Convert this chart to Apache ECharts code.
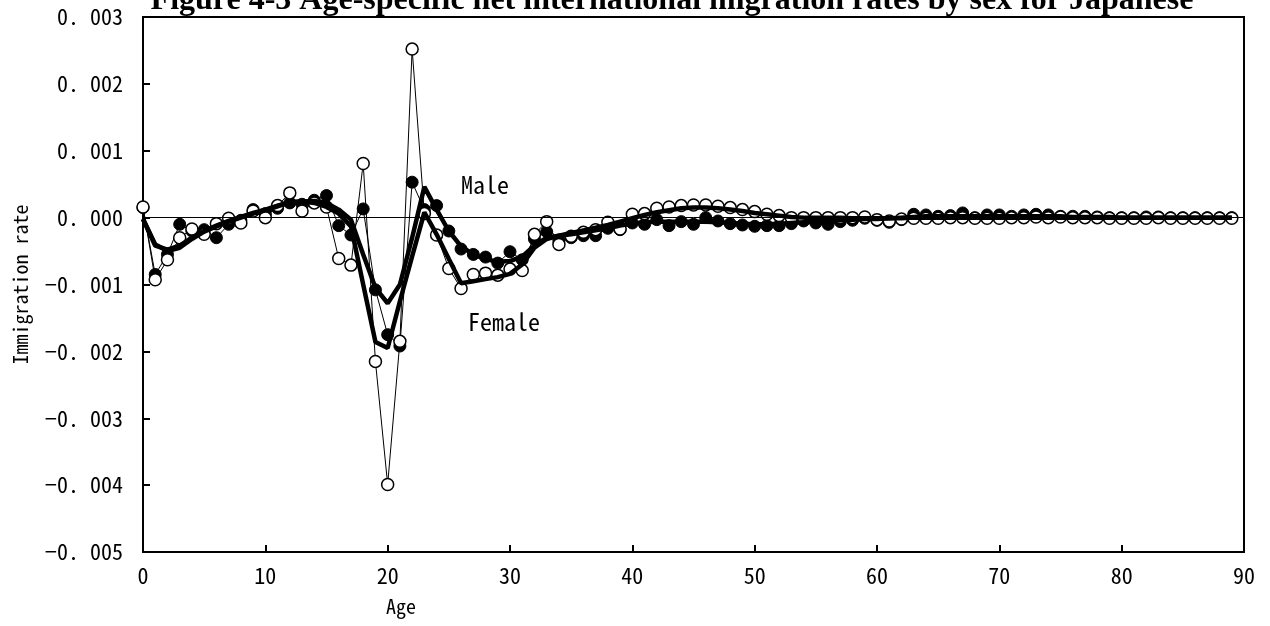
<!DOCTYPE html>
<html>
<head>
<meta charset="utf-8">
<script src="https://cdn.jsdelivr.net/npm/echarts@6/dist/echarts.min.js"></script>
<style>html,body{margin:0;padding:0;background:#fff}#c{width:1270px;height:626px}</style>
</head>
<body>
<div id="c"></div>
<script>
const ages = [0,1,2,3,4,5,6,7,8,9,10,11,12,13,14,15,16,17,18,19,20,21,22,23,24,25,26,27,28,29,30,31,32,33,34,35,36,37,38,39,40,41,42,43,44,45,46,47,48,49,50,51,52,53,54,55,56,57,58,59,60,61,62,63,64,65,66,67,68,69,70,71,72,73,74,75,76,77,78,79,80,81,82,83,84,85,86,87,88,89];

const maleObserved = [0.00015,-0.00085,-0.00055,-0.00010,-0.00020,-0.00018,-0.00030,-0.00010,-0.00004,0.00012,
  0.00006,0.00014,0.00022,0.00020,0.00026,0.00033,-0.00012,-0.00026,0.00013,-0.00108,
  -0.00175,-0.00192,0.00053,0.00012,0.00018,-0.00020,-0.00047,-0.00055,-0.00059,-0.00068,
  -0.00051,-0.00063,-0.00032,-0.00021,-0.00034,-0.00030,-0.00027,-0.00027,-0.00016,-0.00018,
  -0.00008,-0.00010,-0.00003,-0.00012,-0.00006,-0.00010,0.00000,-0.00005,-0.00009,-0.00011,
  -0.00013,-0.00012,-0.00012,-0.00009,-0.00005,-0.00008,-0.00010,-0.00006,-0.00004,-0.00001,
  -0.00004,-0.00007,-0.00003,0.00005,0.00004,0.00002,0.00003,0.00007,0.00000,0.00004,
  0.00004,0.00002,0.00004,0.00005,0.00004,0.00002,0.00002,0.00002,0.00001,0.00000,
  0.00000,0.00000,0.00001,0.00001,0.00000,0.00000,0.00000,0.00000,0.00000,0.00000];

const femaleObserved = [0.00016,-0.00093,-0.00063,-0.00030,-0.00017,-0.00025,-0.00009,-0.00001,-0.00008,0.00010,
  0.00000,0.00018,0.00037,0.00010,0.00022,0.00016,-0.00061,-0.00071,0.00081,-0.00215,
  -0.00399,-0.00185,0.00252,0.00006,-0.00026,-0.00076,-0.00106,-0.00085,-0.00083,-0.00086,
  -0.00077,-0.00079,-0.00025,-0.00006,-0.00040,-0.00028,-0.00022,-0.00018,-0.00007,-0.00017,
  0.00005,0.00006,0.00014,0.00016,0.00018,0.00019,0.00019,0.00017,0.00015,0.00012,
  0.00009,0.00005,0.00003,0.00000,0.00000,0.00000,0.00000,0.00000,0.00000,0.00001,
  -0.00003,-0.00005,-0.00002,-0.00001,-0.00001,-0.00001,0.00000,0.00000,-0.00001,-0.00001,
  -0.00001,0.00000,0.00000,0.00001,0.00000,0.00001,0.00000,0.00000,0.00000,-0.00001,
  -0.00001,-0.00001,-0.00001,0.00000,-0.00001,-0.00001,-0.00001,-0.00001,-0.00001,-0.00001];

const maleSmoothed = [-0.00002,-0.00040,-0.00050,-0.00045,-0.00032,-0.00021,-0.00013,-0.00006,0.00000,0.00006,
  0.00011,0.00017,0.00023,0.00024,0.00025,0.00022,0.00012,-0.00003,-0.00055,-0.00105,
  -0.00128,-0.00100,-0.00030,0.00046,0.00012,-0.00020,-0.00043,-0.00055,-0.00062,-0.00066,
  -0.00065,-0.00058,-0.00042,-0.00030,-0.00027,-0.00025,-0.00022,-0.00019,-0.00016,-0.00012,
  -0.00009,-0.00007,-0.00006,-0.00006,-0.00006,-0.00006,-0.00006,-0.00007,-0.00008,-0.00009,
  -0.00010,-0.00010,-0.00009,-0.00008,-0.00007,-0.00006,-0.00005,-0.00004,-0.00003,-0.00002,
  -0.00002,-0.00001,0.00000,0.00001,0.00002,0.00002,0.00002,0.00002,0.00002,0.00002,
  0.00002,0.00002,0.00002,0.00002,0.00002,0.00002,0.00001,0.00001,0.00001,0.00001,
  0.00000,0.00000,0.00000,0.00000,0.00000,0.00000,0.00000,0.00000,0.00000,0.00000];

const femaleSmoothed = [-0.00002,-0.00042,-0.00048,-0.00042,-0.00030,-0.00020,-0.00012,-0.00005,0.00001,0.00007,
  0.00012,0.00018,0.00023,0.00024,0.00022,0.00016,0.00006,-0.00013,-0.00100,-0.00186,
  -0.00195,-0.00125,-0.00058,0.00008,-0.00025,-0.00062,-0.00098,-0.00095,-0.00092,-0.00089,
  -0.00084,-0.00070,-0.00045,-0.00032,-0.00027,-0.00023,-0.00019,-0.00015,-0.00011,-0.00006,
  -0.00001,0.00004,0.00008,0.00011,0.00014,0.00015,0.00015,0.00014,0.00012,0.00010,
  0.00007,0.00005,0.00003,0.00001,0.00000,0.00000,0.00000,0.00000,-0.00001,-0.00001,
  -0.00001,-0.00001,-0.00001,0.00000,0.00000,0.00000,0.00000,0.00000,0.00000,0.00000,
  0.00000,0.00000,0.00000,0.00000,0.00000,0.00000,0.00000,0.00000,0.00000,0.00000,
  0.00000,0.00000,0.00000,0.00000,0.00000,0.00000,0.00000,0.00000,0.00000,0.00000];

const yTicks = {min: -0.005, max: 0.003, interval: 0.001};
const xTicks = {min: 0, max: 90, interval: 10};
const titleText = 'Figure 4-3 Age-specific net international migration rates by sex for Japanese';

const pair = arr => ages.map((a, i) => [a, arr[i]]);
const gothic = "'Noto Sans Mono CJK JP','Noto Sans CJK JP',monospace";

const chart = echarts.init(document.getElementById('c'), null, {renderer: 'canvas'});
chart.setOption({
  animation: false,
  backgroundColor: '#fff',
  grid: {left: 143, top: 17, right: 26, bottom: 74, show: true, borderColor: '#000', borderWidth: 2, backgroundColor: 'transparent'},
  xAxis: {
    type: 'value', min: xTicks.min, max: xTicks.max, interval: xTicks.interval,
    axisLine: {show: true, onZero: false, lineStyle: {color: '#000', width: 2}},
    axisTick: {show: true, inside: true, length: 7, lineStyle: {color: '#000', width: 2}},
    axisLabel: {color: '#000', fontSize: 22, fontFamily: gothic, margin: 13},
    splitLine: {show: false}
  },
  yAxis: {
    type: 'value', min: yTicks.min, max: yTicks.max, interval: yTicks.interval,
    name: 'Immigration rate', nameLocation: 'middle', nameGap: 113,
    nameTextStyle: {color: '#000', fontSize: 20, fontFamily: gothic},
    axisLine: {show: true, onZero: false, lineStyle: {color: '#000', width: 2}},
    axisTick: {show: true, inside: true, length: 7, lineStyle: {color: '#000', width: 2}},
    axisLabel: {color: '#000', fontSize: 22, fontFamily: gothic, margin: 20,
      formatter: v => { const s = (Math.round(v * 1000) / 1000).toFixed(3); return s.replace('-', '\u2212').replace('.', '. '); }},
    splitLine: {show: false}
  },
  graphic: [
    {type: 'text', x: 672, y: -15, style: {text: titleText, font: 'bold 32px "Liberation Serif"', fill: '#000', align: 'center', verticalAlign: 'top'}},
    {type: 'text', x: 461, y: 185, style: {text: 'Male', font: '24px ' + gothic, fill: '#000', verticalAlign: 'middle'}},
    {type: 'text', x: 468, y: 322, style: {text: 'Female', font: '24px ' + gothic, fill: '#000', verticalAlign: 'middle'}},
    {type: 'text', x: 401, y: 606, style: {text: 'Age', font: '20px ' + gothic, fill: '#000', align: 'center', verticalAlign: 'middle'}}
  ],
  series: [
    {name: 'Male observed', type: 'line', data: pair(maleObserved), symbol: 'circle', symbolSize: 12, showAllSymbol: true,
      lineStyle: {color: '#000', width: 1}, itemStyle: {color: '#000', borderColor: '#000', borderWidth: 1}, z: 2,
      markLine: {silent: true, symbol: 'none', label: {show: false}, lineStyle: {color: '#000', width: 1, type: 'solid'}, data: [{yAxis: 0}]}},
    {name: 'Female observed', type: 'line', data: pair(femaleObserved), symbol: 'circle', symbolSize: 12, showAllSymbol: true,
      lineStyle: {color: '#000', width: 1}, itemStyle: {color: '#fff', borderColor: '#000', borderWidth: 1.5}, z: 3},
    {name: 'Male smoothed', type: 'line', data: pair(maleSmoothed), symbol: 'none',
      lineStyle: {color: '#000', width: 4.5}, z: 4},
    {name: 'Female smoothed', type: 'line', data: pair(femaleSmoothed), symbol: 'none',
      lineStyle: {color: '#000', width: 4.5}, z: 4}
  ]
});
</script>
</body>
</html>
